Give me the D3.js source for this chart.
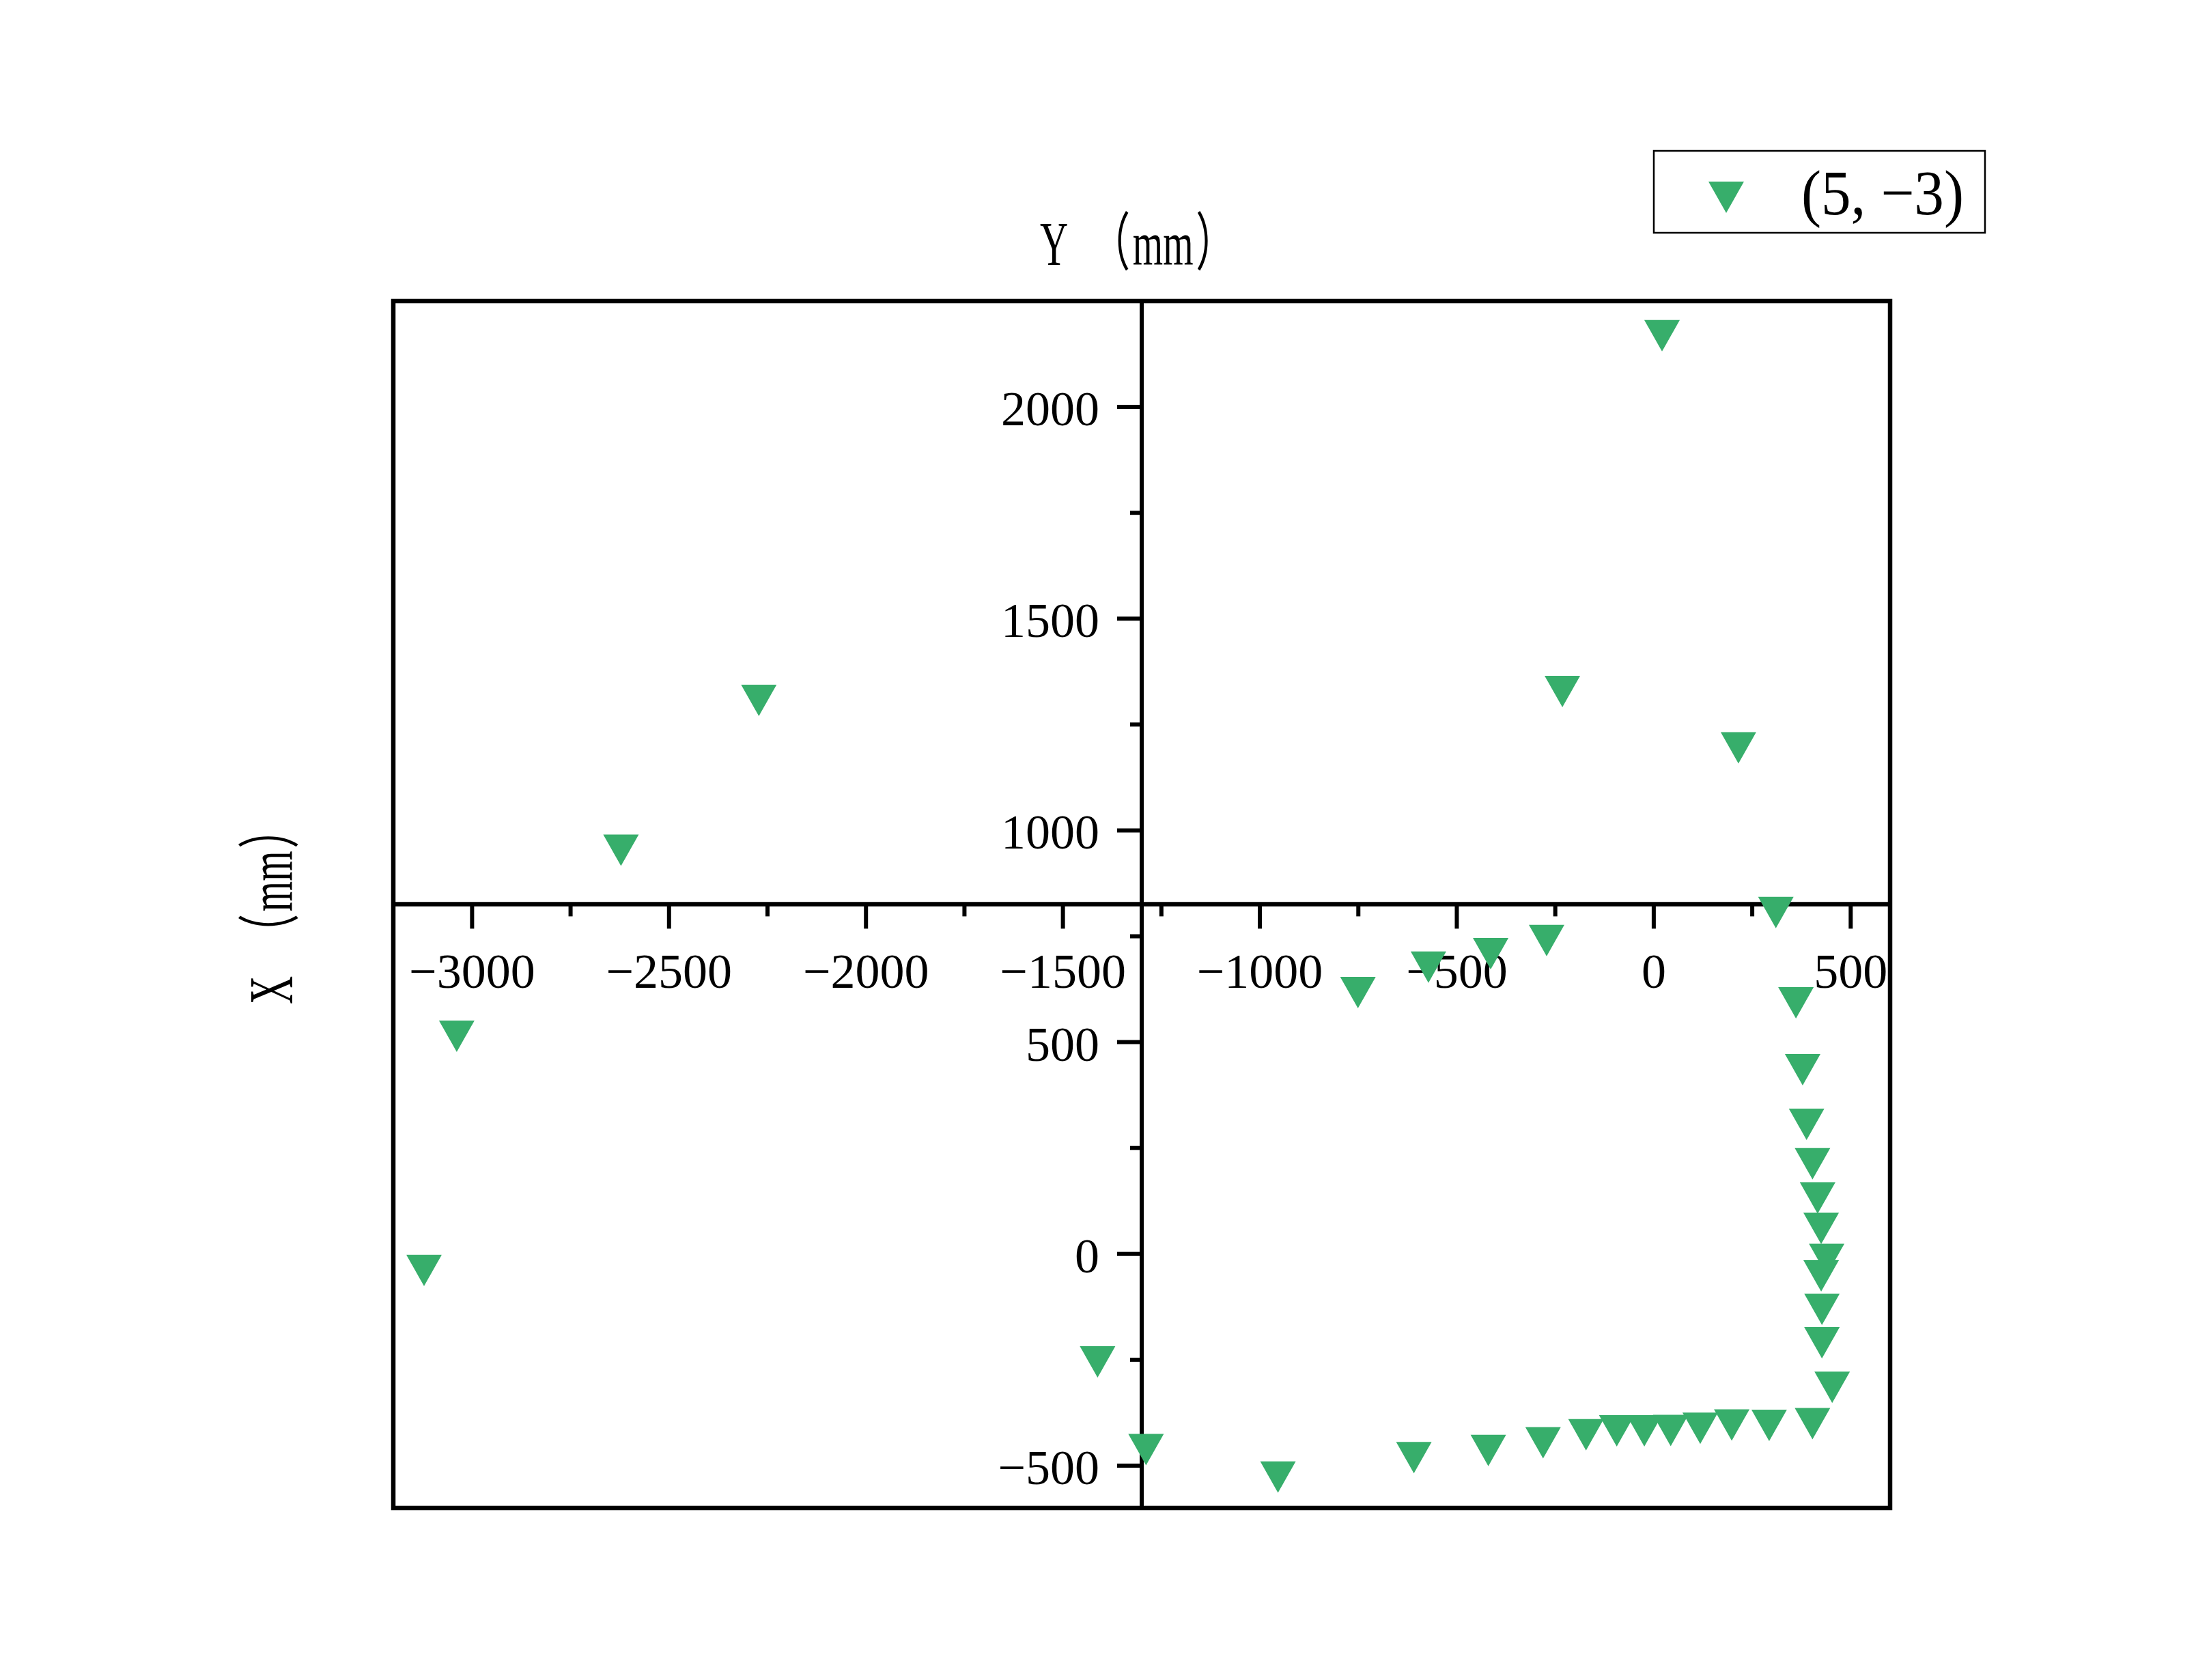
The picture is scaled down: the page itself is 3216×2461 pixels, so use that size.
<!DOCTYPE html>
<html><head><meta charset="utf-8">
<script src="https://cdn.jsdelivr.net/npm/d3@7"></script>
<style>html,body{margin:0;padding:0;background:#fff;}</style>
</head><body>
<script>
// Horizontal values: Y (mm); vertical values: X (mm)
const yMM = [21, -2272, -2622, -232, 215, 310, -272, -414, -572, -751, 361, -3039, 378, 388, 403, 416, 425, 439, 425, 427, 427, 453, 403, 293, 198, 118, 43, -24, -94, -172, -281, -420, -609, -954, -1289, -1412, -3122];
const xMM = [2168, 1307, 953, 1328, 1195, 806, 740, 709, 677, 617, 593, 514, 435, 306, 213, 132, 60, -13, -52, -131, -210, -315, -401, -405, -404, -412, -417, -418, -418, -427, -446, -464, -481, -527, -462, -255, -39];
const xMajorTicks = [-3000, -2500, -2000, -1500, -1000, -500, 0, 500];
const xMinorTicks = [-2750, -2250, -1750, -1250, -750, -250, 250];
const yMajorTicks = [-500, 0, 500, 1000, 1500, 2000];
const yMinorTicks = [-250, 250, 750, 1250, 1750];
const seriesName = "(5, \u22123)";
const xTitleParts = ["Y", "\uFF08", "mm", "\uFF09"];
const yTitleParts = ["X", "\uFF08", "mm", "\uFF09"];
const xDomain = [-3200, 600];
const yDomain = [-600, 2250];
const xCross = -1300;  // vertical axis position (data units)
const yCross = 826;    // horizontal axis position (data units)

const W = 3216, H = 2461;
const L = 576, R = 2768, T = 441, B = 2209;
const green = "#37ae6b";
const svg = d3.select("body").append("svg").attr("width", W).attr("height", H).style("background", "#fff");
const x = d3.scaleLinear().domain(xDomain).range([L, R]);
const y = d3.scaleLinear().domain(yDomain).range([B, T]);
const serif = "'Liberation Serif', 'Times New Roman', serif";
const fmt = d3.format("");

// frame
svg.append("rect").attr("x", L).attr("y", T).attr("width", R - L).attr("height", B - T)
  .attr("fill", "none").attr("stroke", "#000").attr("stroke-width", 6.5);

const ax = x(xCross), ay = y(yCross);
svg.append("line").attr("x1", ax).attr("x2", ax).attr("y1", T).attr("y2", B).attr("stroke", "#000").attr("stroke-width", 6);
svg.append("line").attr("x1", L).attr("x2", R).attr("y1", ay).attr("y2", ay).attr("stroke", "#000").attr("stroke-width", 6.5);

// x ticks (downward)
const gx = svg.append("g").attr("stroke", "#000").attr("stroke-width", 6);
gx.selectAll(".maj").data(xMajorTicks).join("line").attr("x1", d => x(d)).attr("x2", d => x(d)).attr("y1", ay).attr("y2", ay + 36);
gx.selectAll(".min").data(xMinorTicks).join("line").attr("class","min").attr("x1", d => x(d)).attr("x2", d => x(d)).attr("y1", ay).attr("y2", ay + 18);
svg.append("g").selectAll("text").data(xMajorTicks).join("text")
  .attr("x", d => x(d)).attr("y", ay + 123).attr("text-anchor", "middle")
  .attr("font-family", serif).attr("font-size", 72).text(d => fmt(d));

// y ticks (leftward)
const gy = svg.append("g").attr("stroke", "#000").attr("stroke-width", 6);
gy.selectAll(".maj").data(yMajorTicks).join("line").attr("x1", ax - 36).attr("x2", ax).attr("y1", d => y(d)).attr("y2", d => y(d));
gy.selectAll(".min").data(yMinorTicks).join("line").attr("class","min").attr("x1", ax - 17).attr("x2", ax).attr("y1", d => y(d)).attr("y2", d => y(d));
svg.append("g").selectAll("text").data(yMajorTicks).join("text")
  .attr("x", ax - 62).attr("y", d => y(d) + 27).attr("text-anchor", "end")
  .attr("font-family", serif).attr("font-size", 72).text(d => fmt(d));

// axis titles (condensed, full-width parentheses)
const titleFont = "'Liberation Serif', 'Noto Sans CJK SC', serif";
const partX = [0, 121, 219, 368];
function title(parts, transform) {
  const t = svg.append("text").attr("transform", transform)
    .attr("font-family", titleFont).attr("font-size", 92);
  t.selectAll("tspan").data(parts).join("tspan").attr("x", (d, i) => partX[i]).text(d => d);
}
title(xTitleParts, "translate(1523,388) scale(0.62,1)");
title(yTitleParts, "translate(428,1471) rotate(-90) scale(0.62,1)");

// markers
const tri = "M-26,-23L26,-23L0,23Z";
svg.append("g").selectAll("path").data(d3.range(yMM.length)).join("path")
  .attr("d", tri).attr("fill", green)
  .attr("transform", i => `translate(${x(yMM[i])},${y(xMM[i])})`);

// legend
svg.append("rect").attr("x", 2422).attr("y", 221).attr("width", 485).attr("height", 120)
  .attr("fill", "#fff").attr("stroke", "#000").attr("stroke-width", 2.5);
svg.append("path").attr("d", tri).attr("fill", green).attr("transform", "translate(2528,289)");
svg.append("text").attr("x", 2638).attr("y", 314).attr("font-family", serif).attr("font-size", 94)
  .attr("textLength", 238).attr("lengthAdjust", "spacingAndGlyphs").text(seriesName);
</script>
</body></html>
